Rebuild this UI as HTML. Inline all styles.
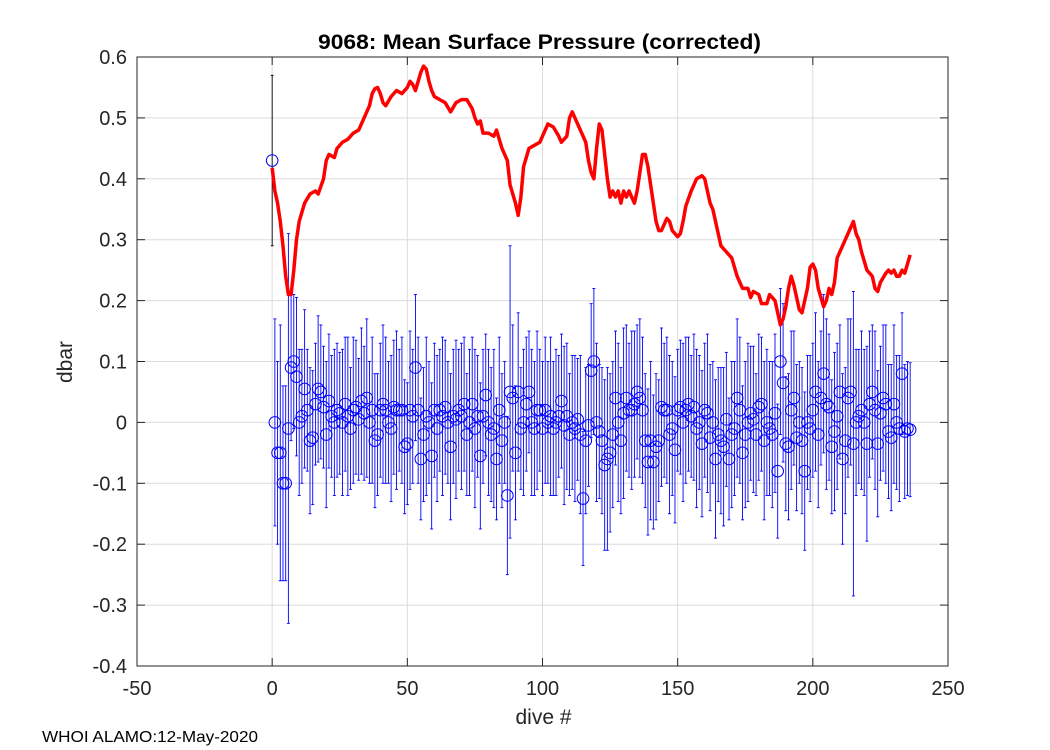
<!DOCTYPE html>
<html><head><meta charset="utf-8"><style>
body{margin:0;background:#fff;}
svg{display:block;font-family:"Liberation Sans",sans-serif;}
</style></head><body>
<svg id="c" width="1050" height="750"></svg>
<script>
const xTicks=[-50,0,50,100,150,200,250];
const yTicks=[-0.4,-0.3,-0.2,-0.1,0,0.1,0.2,0.3,0.4,0.5,0.6];
const yTickLabels=['-0.4','-0.3','-0.2','-0.1','0','0.1','0.2','0.3','0.4','0.5','0.6'];
const redX=[0,1,2,3,4,5,6,7,8,9,10,12,14,16,17,19,20,21,23,24,26,28,30,32,34,36,37,38,39,40,41,42,44,46,48,50,51,52,53,54,55,56,57,58,59,60,62,64,66,68,70,72,74,75,76,77,78,80,82,83,85,87,88,90,91,92,93,95,97,99,101,102,104,106,107,109,110,111,112,114,116,117,118,119,120,121,122,123,124,125,126,127,128,129,130,131,132,133,134,135,136,137,138,139,140,141,142,143,144,146,147,148,150,151,152,153,155,157,159,160,161,162,163,164,165,166,168,170,172,174,176,177,178,180,181,183,184,186,187,188,189,190,191,192,193,194,195,196,198,199,200,201,202,203,204,205,206,207,208,209,210,211,212,213,214,215,216,217,218,219,220,221,222,223,224,225,227,228,229,230,231,232,233,234,235,236];
const redY=[0.418,0.38,0.36,0.33,0.29,0.24,0.21,0.21,0.25,0.30,0.33,0.36,0.375,0.38,0.375,0.40,0.43,0.44,0.435,0.45,0.46,0.465,0.475,0.48,0.50,0.52,0.54,0.548,0.55,0.54,0.525,0.52,0.535,0.545,0.54,0.55,0.56,0.555,0.545,0.56,0.575,0.585,0.58,0.56,0.545,0.535,0.53,0.525,0.51,0.525,0.53,0.53,0.515,0.50,0.49,0.495,0.475,0.475,0.47,0.48,0.45,0.43,0.39,0.36,0.34,0.37,0.42,0.45,0.455,0.46,0.48,0.49,0.485,0.47,0.46,0.47,0.50,0.51,0.50,0.48,0.46,0.43,0.41,0.40,0.45,0.49,0.48,0.44,0.40,0.37,0.38,0.37,0.38,0.36,0.38,0.37,0.38,0.37,0.36,0.38,0.41,0.44,0.44,0.42,0.39,0.36,0.33,0.315,0.315,0.335,0.33,0.315,0.305,0.31,0.33,0.355,0.38,0.40,0.405,0.40,0.38,0.36,0.35,0.33,0.31,0.29,0.28,0.27,0.24,0.22,0.22,0.205,0.215,0.21,0.195,0.195,0.21,0.20,0.18,0.16,0.17,0.19,0.22,0.24,0.225,0.205,0.185,0.18,0.22,0.255,0.26,0.25,0.22,0.205,0.19,0.20,0.22,0.21,0.23,0.27,0.28,0.29,0.30,0.31,0.32,0.33,0.31,0.30,0.28,0.265,0.25,0.245,0.24,0.22,0.215,0.23,0.245,0.25,0.245,0.25,0.24,0.24,0.25,0.245,0.26,0.275];
const blueY=[0.43,0.00,-0.05,-0.05,-0.10,-0.10,-0.01,0.09,0.10,0.075,0.00,0.01,0.055,0.02,-0.03,-0.025,0.03,0.055,0.05,0.025,
-0.02,0.035,0.01,0.00,0.02,0.015,0.0,0.03,0.01,-0.01,0.02,0.025,0.005,0.035,0.015,0.04,0.00,0.02,-0.03,-0.02,
0.02,0.03,0.02,0.0,-0.01,0.025,0.02,0.02,0.02,-0.04,-0.035,0.02,0.01,0.09,0.02,-0.06,-0.02,0.01,0.0,-0.055,
0.02,-0.01,0.02,0.01,0.025,0.0,-0.04,0.01,0.005,0.02,0.01,0.03,-0.02,0.0,0.03,-0.01,0.01,-0.055,0.01,0.045,
0.0,-0.02,-0.01,-0.06,0.02,-0.03,0.0,-0.12,0.05,0.04,-0.05,0.05,-0.01,0.0,0.03,0.05,0.0,-0.01,0.02,0.02,
-0.01,0.02,0.0,0.01,-0.01,0.0,0.01,0.035,-0.005,0.01,-0.02,0.0,-0.01,0.005,-0.02,-0.125,-0.03,-0.005,0.085,0.10,
0.0,-0.015,-0.03,-0.07,-0.06,-0.05,-0.02,0.04,0.0,-0.03,0.015,0.04,0.02,0.02,0.03,0.05,0.04,0.02,-0.03,-0.065,
-0.03,-0.065,-0.04,-0.03,0.025,0.02,0.02,-0.02,-0.01,-0.045,0.02,0.025,0.0,0.02,0.03,0.01,0.025,-0.01,0.0,-0.035,
0.02,0.015,-0.025,0.0,-0.06,-0.02,-0.03,-0.04,0.005,-0.06,-0.02,-0.01,0.04,0.02,-0.05,-0.02,0.0,0.015,0.005,-0.02,
0.025,0.03,-0.03,0.0,-0.01,-0.02,0.015,-0.08,0.10,0.065,-0.035,-0.04,0.02,0.04,-0.025,0.0,-0.03,-0.08,0.0,-0.01,
0.02,0.05,-0.02,0.04,0.08,0.03,0.025,-0.04,-0.015,0.01,0.05,-0.06,-0.03,0.04,0.05,-0.035,0.0,0.01,0.02,0.0,
-0.035,0.03,0.05,0.02,-0.035,0.015,0.04,0.03,-0.015,-0.025,0.03,0.0,-0.01,0.08,-0.015,-0.01,-0.012];
const blueErr=[0.14,0.17,0.15,0.21,0.16,0.16,0.32,0.12,0.11,0.13,0.12,0.11,0.13,0.10,0.12,0.11,0.10,0.12,0.11,0.10,
0.12,0.11,0.10,0.12,0.11,0.10,0.12,0.11,0.13,0.10,0.12,0.11,0.10,0.12,0.11,0.13,0.10,0.12,0.11,0.10,
0.11,0.13,0.12,0.10,0.12,0.11,0.13,0.10,0.12,0.11,0.10,0.13,0.11,0.12,0.12,0.10,0.11,0.13,0.10,0.12,
0.11,0.12,0.10,0.13,0.11,0.10,0.12,0.11,0.13,0.10,0.12,0.11,0.10,0.12,0.11,0.13,0.10,0.12,0.11,0.10,
0.12,0.11,0.13,0.10,0.12,0.11,0.10,0.13,0.24,0.12,0.11,0.13,0.10,0.12,0.11,0.10,0.12,0.11,0.13,0.10,
0.11,0.12,0.10,0.13,0.11,0.12,0.10,0.11,0.13,0.12,0.10,0.11,0.12,0.10,0.13,0.11,0.12,0.10,0.11,0.12,
0.13,0.11,0.12,0.14,0.15,0.13,0.12,0.11,0.13,0.12,0.14,0.12,0.11,0.13,0.12,0.11,0.13,0.12,0.11,0.12,
0.13,0.11,0.12,0.10,0.13,0.11,0.12,0.13,0.11,0.12,0.10,0.11,0.13,0.12,0.11,0.10,0.12,0.13,0.11,0.12,
0.11,0.13,0.12,0.10,0.13,0.11,0.12,0.13,0.11,0.10,0.12,0.11,0.13,0.12,0.11,0.12,0.13,0.11,0.12,0.10,
0.12,0.11,0.13,0.12,0.11,0.12,0.13,0.11,0.12,0.13,0.11,0.12,0.13,0.11,0.12,0.10,0.12,0.13,0.11,0.12,
0.11,0.13,0.12,0.11,0.13,0.14,0.12,0.11,0.13,0.12,0.11,0.14,0.12,0.13,0.12,0.25,0.12,0.11,0.13,0.12,
0.16,0.12,0.11,0.13,0.12,0.11,0.12,0.13,0.11,0.12,0.13,0.11,0.12,0.10,0.11,0.11,0.11];

const NS='http://www.w3.org/2000/svg';
const svg=document.getElementById('c');
const L=137,R=948,T=57,B=666;
const xs=v=>L+(v+50)/300*(R-L);
const ys=v=>B-(v+0.4)/1.0*(B-T);
function mk(tag,attrs,parent){const e=document.createElementNS(NS,tag);for(const k in attrs)e.setAttribute(k,attrs[k]);(parent||svg).appendChild(e);return e;}

const grid=mk('g',{});


xTicks.forEach(t=>{mk('line',{x1:xs(t),x2:xs(t),y1:T,y2:B,stroke:'#dcdcdc','stroke-width':1},grid);});
yTicks.forEach(t=>{mk('line',{x1:L,x2:R,y1:ys(t),y2:ys(t),stroke:'#dcdcdc','stroke-width':1},grid);});

const xa=mk('g',{});


xTicks.forEach(t=>{
  mk('line',{x1:xs(t),x2:xs(t),y1:B,y2:B-8,stroke:'#262626'},xa);
  mk('line',{x1:xs(t),x2:xs(t),y1:T,y2:T+8,stroke:'#262626'},xa);
  const tx=mk('text',{x:xs(t),y:B+29,'text-anchor':'middle','font-size':20,fill:'#262626'},xa);tx.textContent=t;
});
const ya=mk('g',{});


yTicks.forEach((t,i)=>{
  mk('line',{x1:L,x2:L+8,y1:ys(t),y2:ys(t),stroke:'#262626'},ya);
  mk('line',{x1:R,x2:R-8,y1:ys(t),y2:ys(t),stroke:'#262626'},ya);
  const tx=mk('text',{x:L-10,y:ys(t)+7,'text-anchor':'end','font-size':20,fill:'#262626'},ya);tx.textContent=yTickLabels[i];
});

const eb=mk('g',{});


blueY.forEach((v,i)=>{
  const col=i===0?'#000':'#0000ff';
  const x=xs(i),y1=ys(v-blueErr[i]),y2=ys(v+blueErr[i]);
  mk('line',{x1:x,x2:x,y1:y1,y2:y2,stroke:col,'stroke-width':0.9},eb);
  mk('line',{x1:x-1.5,x2:x+1.5,y1:y1,y2:y1,stroke:col,'stroke-width':0.9},eb);
  mk('line',{x1:x-1.5,x2:x+1.5,y1:y2,y2:y2,stroke:col,'stroke-width':0.9},eb);
});
const pts=mk('g',{});


blueY.forEach((v,i)=>{
  mk('circle',{cx:xs(i),cy:ys(v),r:5.8,fill:'none',stroke:'#0000ff','stroke-width':1},pts);
});

const red=mk('polyline',{points:redX.map((x,i)=>xs(x)+','+ys(redY[i])).join(' '),fill:'none',stroke:'#ff0000','stroke-width':3.5,'stroke-linejoin':'round'});



const box=mk('rect',{x:L,y:T,width:R-L,height:B-T,fill:'none',stroke:'#262626','stroke-width':1});



const title=mk('text',{x:(L+R)/2+(-3),y:49,'text-anchor':'middle','font-size':21,'font-weight':'bold',fill:'#000',textLength:443,lengthAdjust:'spacingAndGlyphs'});
title.textContent='9068: Mean Surface Pressure (corrected)';


const xl=mk('text',{x:(L+R)/2+1,y:724,'text-anchor':'middle','font-size':21,fill:'#262626'});
xl.textContent='dive #';


const yl=mk('text',{x:0,y:0,'text-anchor':'middle','font-size':21,fill:'#262626',transform:'translate(72,362) rotate(-90)'});
yl.textContent='dbar';


const ft=mk('text',{x:42,y:742,'font-size':16,fill:'#000',textLength:216,lengthAdjust:'spacingAndGlyphs'});
ft.textContent='WHOI ALAMO:12-May-2020';


</script>
</body></html>
